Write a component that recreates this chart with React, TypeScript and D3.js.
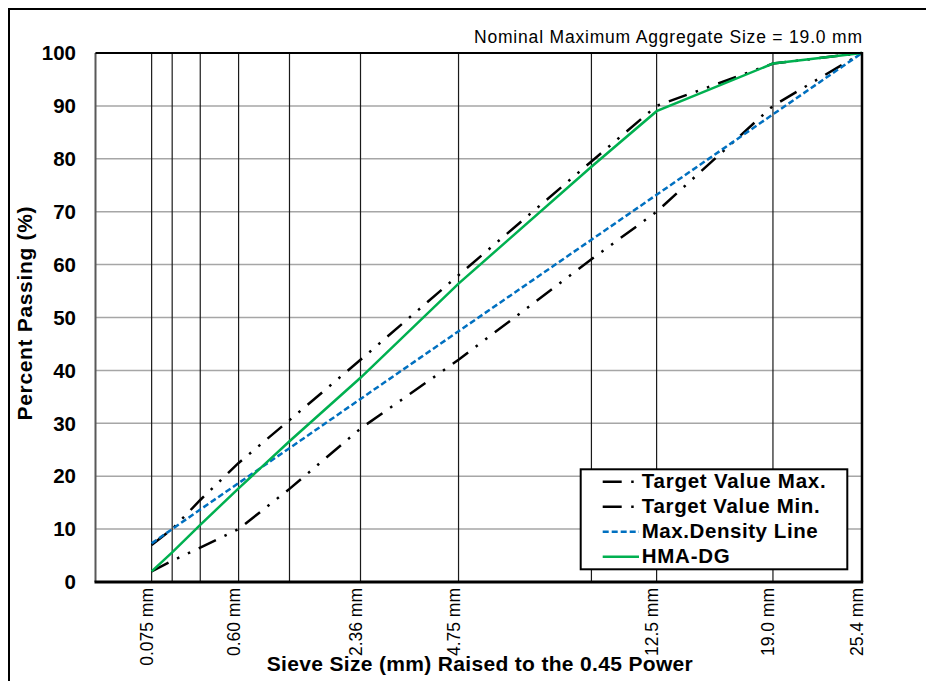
import React from "react";
import * as d3 from "d3";

// ---- data ----
const sieveSizes = [0.075, 0.15, 0.3, 0.6, 1.18, 2.36, 4.75, 9.5, 12.5, 19.0, 25.0];
const sieveLabels = ["0.075 mm", "", "", "0.60 mm", "", "2.36 mm", "4.75 mm", "", "12.5 mm", "19.0 mm", "25.4 mm"];
const targetMax = [7, 10, 15.5, 22.5, 30.6, 42, 58, 79.5, 90, 98, 100];
const targetMin = [2, 4, 6.5, 10, 17.6, 29, 42, 61, 70, 90, 100];
const maxDensity = [7.3, 10.0, 13.7, 18.7, 25.3, 34.6, 47.4, 64.7, 73.2, 88.4, 100];
const hmaDg = [2, 5.6, 10.8, 17.7, 26.6, 38.6, 56.4, 78.5, 89, 98, 100];
const yTicks = [0, 10, 20, 30, 40, 50, 60, 70, 80, 90, 100];
const seriesNames = ["Target Value Max.", "Target Value Min.", "Max.Density Line", "HMA-DG"];
const seriesValues = [targetMax, targetMin, maxDensity, hmaDg];

const W = 926;
const H = 681;
const FONT = "Arial, 'Liberation Sans', sans-serif";

const seriesStyle = [
  { color: "#000000", dash: "19 9.5 2.5 9.5 2.5 9.5", width: 2.5 },
  { color: "#000000", dash: "19 9.5 2.5 9.5 2.5 9.5", width: 2.5 },
  { color: "#0070C0", dash: "6 3", width: 2.5 },
  { color: "#00B050", dash: "", width: 2.5 },
];
const legendTextLen = [184, 178, 176, 88];

export default function App() {
  const left = 95.5, right = 862, top = 53, bottom = 582;
  const x = d3.scalePow().exponent(0.45).domain([0, 25]).range([left, right]);
  const y = d3.scaleLinear().domain([0, 100]).range([bottom, top]);

  const line = d3
    .line<[number, number]>()
    .x((d) => x(d[0]))
    .y((d) => y(d[1]));

  const legX = 580.7, legY = 469.3, legW = 266.6, legH = 100;

  return (
    <svg
      width={W}
      height={H}
      style={{ position: "absolute", left: 0, top: 0, background: "#fff" }}
      fontFamily={FONT}
    >
      <rect x={0} y={0} width={W} height={H} fill="#fff" />
      {/* outer chart border */}
      <rect x={9} y={9} width={1000} height={1000} fill="none" stroke="#000" strokeWidth={2} />

      {/* note */}
      <text x={right} y={43} textAnchor="end" fontSize={17.5} fill="#000" textLength={388} lengthAdjust="spacing">
        Nominal Maximum Aggregate Size = 19.0 mm
      </text>

      {/* horizontal gridlines */}
      {yTicks.map((t) => (
        <line key={"h" + t} x1={left} x2={right} y1={y(t)} y2={y(t)} stroke="#A6A6A6" strokeWidth={1.5} />
      ))}
      {/* vertical sieve lines */}
      {sieveSizes.map((s, i) => (
        <line key={"v" + i} x1={x(s)} x2={x(s)} y1={top} y2={bottom} stroke="#1a1a1a" strokeWidth={1.2} />
      ))}

      {/* series */}
      {seriesValues.map((vals, i) => (
        <path
          key={"s" + i}
          d={line(sieveSizes.map((s, j) => [s, vals[j]] as [number, number])) || ""}
          fill="none"
          stroke={seriesStyle[i].color}
          strokeWidth={seriesStyle[i].width}
          strokeDasharray={seriesStyle[i].dash || undefined}
        />
      ))}

      {/* frame */}
      <line x1={left} x2={left} y1={top} y2={bottom} stroke="#595959" strokeWidth={2} />
      <line x1={left} x2={right} y1={top} y2={top} stroke="#000" strokeWidth={2} />
      <line x1={right} x2={right} y1={top - 1} y2={bottom} stroke="#000" strokeWidth={2.5} />
      <line x1={left - 1} x2={right + 1.2} y1={bottom} y2={bottom} stroke="#000" strokeWidth={3} />

      {/* y tick labels */}
      {yTicks.map((t) => (
        <text key={"yl" + t} x={76} y={y(t) + 7.2} textAnchor="end" fontSize={20.5} fontWeight="bold" fill="#000">
          {t}
        </text>
      ))}

      {/* x tick labels */}
      {sieveSizes.map((s, i) =>
        sieveLabels[i] ? (
          <text
            key={"xl" + i}
            transform={`translate(${x(s) + 1},588) rotate(-90)`}
            textAnchor="end"
            fontSize={17.5}
            fill="#000"
          >
            {sieveLabels[i]}
          </text>
        ) : null
      )}

      {/* axis titles */}
      <text
        transform={`translate(31.5,${(top + bottom) / 2 - 4}) rotate(-90)`}
        textAnchor="middle"
        fontSize={21}
        fontWeight="bold"
        fill="#000"
        textLength={214}
        lengthAdjust="spacing"
      >
        Percent Passing (%)
      </text>
      <text
        x={(left + right) / 2 + 1}
        y={671}
        textAnchor="middle"
        fontSize={21}
        fontWeight="bold"
        fill="#000"
        textLength={426}
        lengthAdjust="spacing"
      >
        Sieve Size (mm) Raised to the 0.45 Power
      </text>

      {/* legend */}
      <rect x={legX} y={legY} width={legW} height={legH} fill="#fff" stroke="#000" strokeWidth={2} />
      {seriesNames.map((name, i) => {
        const ly = 481.8 + i * 24.95;
        return (
          <g key={"lg" + i}>
            <line
              x1={602.7}
              x2={639}
              y1={ly}
              y2={ly}
              stroke={seriesStyle[i].color}
              strokeWidth={seriesStyle[i].width}
              strokeDasharray={seriesStyle[i].dash || undefined}
            />
            <text
              x={641.7}
              y={ly + 6}
              fontSize={20.5}
              fontWeight="bold"
              fill="#000"
              textLength={legendTextLen[i]}
              lengthAdjust="spacing"
            >
              {name}
            </text>
          </g>
        );
      })}
    </svg>
  );
}
